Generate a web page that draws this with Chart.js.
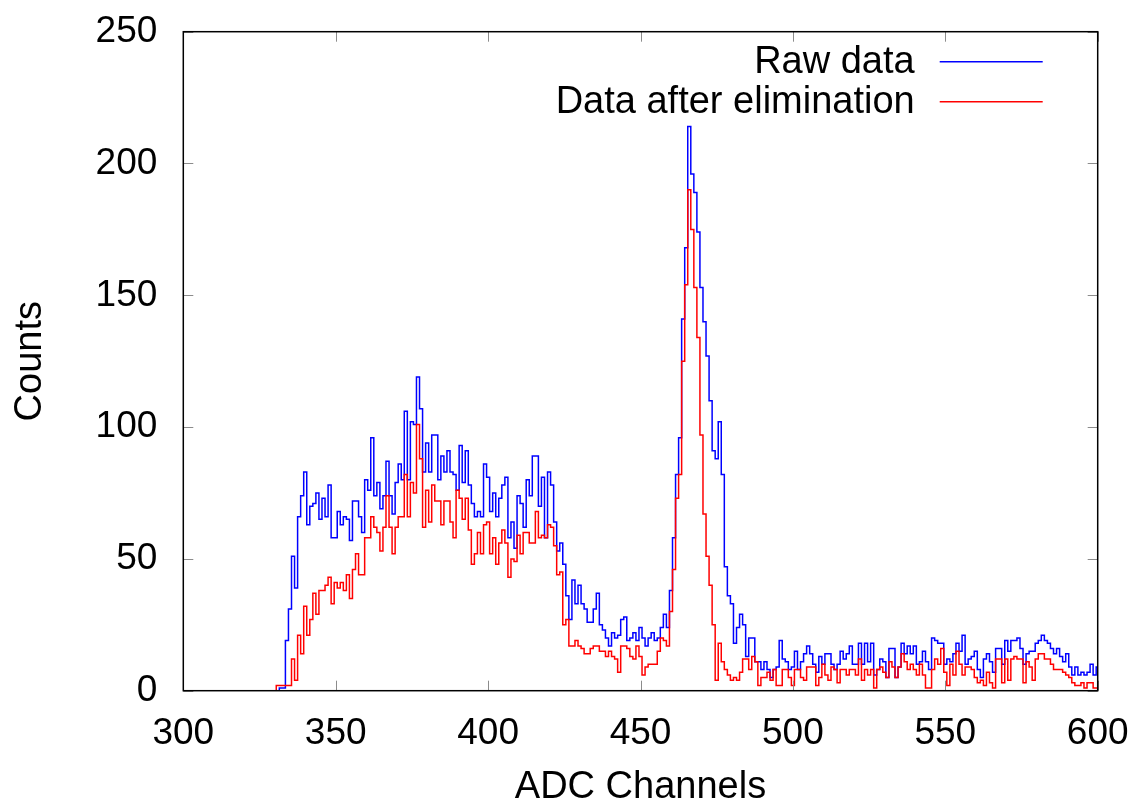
<!DOCTYPE html>
<html>
<head>
<meta charset="utf-8">
<script src="https://cdn.jsdelivr.net/npm/chart.js@4.4.0/dist/chart.umd.min.js"></script>
<style>
  body { margin: 0; background: #fff; }
  #wrap { width: 1138px; height: 807px; }
</style>
</head>
<body>
<div id="wrap"><canvas id="adcChart" width="1138" height="807"></canvas></div>
<script>
// one count per ADC channel, starting at firstChannel
const firstChannel = 330;

const rawCounts = [
  0, 0, 1, 1, 19, 31, 51, 39, 66, 74,          // 330
  83, 63, 70, 71, 75, 65, 73, 66, 78, 58,      // 340
  58, 68, 63, 66, 65, 57, 72, 72, 66, 60,      // 350
  80, 76, 96, 74, 79, 69, 74, 87, 74, 67,      // 360
  79, 86, 80, 106, 80, 102, 101, 119, 107, 83, // 370
  94, 83, 97, 97, 80, 89, 83, 91, 83, 82,      // 380
  76, 93, 79, 91, 78, 71, 66, 68, 66, 86,      // 390
  81, 68, 75, 66, 73, 78, 81, 58, 64, 54,      // 400
  74, 71, 62, 80, 74, 89, 89, 70, 81, 58,      // 410
  83, 78, 64, 53, 56, 48, 36, 27, 42, 33,      // 420
  40, 33, 31, 26, 26, 31, 37, 25, 23, 20,      // 430
  17, 22, 20, 21, 27, 28, 19, 20, 22, 19,      // 440
  24, 20, 17, 20, 22, 19, 20, 24, 29, 24,      // 450
  38, 58, 82, 96, 141, 168, 214, 196, 189, 174, // 460
  153, 140, 127, 110, 91, 88, 102, 82, 47, 36, // 470
  33, 18, 24, 29, 25, 13, 20, 20, 11, 11,      // 480
  8, 11, 8, 5, 8, 9, 19, 12, 11, 8,            // 490
  9, 15, 8, 11, 14, 17, 14, 10, 7, 13,         // 500
  10, 14, 14, 10, 8, 10, 15, 12, 14, 17,       // 510
  10, 10, 18, 10, 18, 11, 18, 6, 8, 12,        // 520
  11, 5, 16, 16, 5, 9, 18, 14, 17, 14,         // 530
  17, 10, 11, 15, 11, 8, 20, 19, 18, 18,       // 540
  10, 12, 11, 14, 18, 15, 21, 10, 12, 13,      // 550
  15, 8, 5, 12, 14, 11, 7, 16, 16, 10,         // 560
  19, 15, 19, 19, 20, 16, 10, 14, 15, 15,      // 570
  18, 19, 21, 19, 18, 16, 14, 16, 13, 11,      // 580
  14, 9, 6, 9, 6, 7, 6, 7, 10, 6,              // 590
  9                                            // 600
];

const cleanCounts = [
  0, 2, 2, 2, 2, 2, 12, 4, 21, 14,             // 330
  32, 21, 27, 37, 29, 38, 38, 40, 43, 33,      // 340
  41, 39, 41, 38, 44, 35, 46, 52, 44, 44,      // 350
  58, 58, 66, 62, 60, 53, 62, 74, 62, 52,      // 360
  62, 66, 66, 82, 66, 79, 75, 101, 88, 62,     // 370
  76, 64, 78, 72, 72, 63, 72, 72, 64, 58,      // 380
  76, 73, 65, 73, 61, 48, 52, 60, 52, 63,      // 390
  64, 52, 58, 48, 56, 61, 56, 43, 50, 49,      // 400
  59, 52, 60, 60, 56, 56, 68, 58, 59, 58,      // 410
  63, 62, 55, 44, 45, 25, 27, 17, 17, 19,      // 420
  17, 16, 14, 14, 16, 17, 17, 15, 15, 13,      // 430
  15, 13, 12, 7, 17, 17, 16, 13, 12, 17,       // 440
  13, 6, 9, 10, 10, 10, 15, 20, 19, 17,        // 450
  30, 46, 73, 82, 125, 154, 190, 175, 153, 134, // 460
  97, 67, 51, 40, 25, 4, 18, 11, 8, 6,         // 470
  4, 5, 4, 7, 12, 12, 8, 13, 11, 2,            // 480
  5, 5, 7, 4, 8, 2, 2, 8, 8, 5,                // 490
  2, 8, 8, 5, 4, 9, 9, 9, 2, 5,                // 500
  10, 6, 4, 9, 8, 3, 8, 8, 6, 8,               // 510
  8, 6, 12, 4, 8, 6, 8, 1, 8, 9,               // 520
  7, 5, 11, 9, 5, 9, 14, 11, 8, 10,            // 530
  8, 6, 10, 6, 1, 1, 8, 12, 10, 16,            // 540
  7, 2, 10, 6, 15, 10, 6, 9, 9, 8,             // 550
  5, 3, 4, 2, 7, 3, 1, 12, 12, 3,              // 560
  12, 4, 12, 13, 12, 12, 3, 11, 9, 4,          // 570
  12, 14, 14, 12, 12, 10, 8, 8, 8, 7,          // 580
  6, 5, 3, 2, 2, 3, 1, 3, 3, 1,                // 590
  1                                            // 600
];

const xTicks = [300, 350, 400, 450, 500, 550, 600];
const yTicks = [0, 50, 100, 150, 200, 250];
const seriesNames = ['Raw data', 'Data after elimination'];

Chart.defaults.font.family = "'Liberation Sans', Arial, sans-serif";
Chart.defaults.color = '#000';

function toPoints(counts) {
  return counts.map((c, i) => ({ x: firstChannel + i, y: c }));
}

// gnuplot-like box: inward tics on all four sides plus the key drawn inside the plot
const frameAndKey = {
  id: 'frameAndKey',
  afterDatasetsDraw(chart) {
    const { ctx, chartArea: a, scales: { x, y } } = chart;
    ctx.save();

    ctx.strokeStyle = '#8c8c8c';
    ctx.lineWidth = 1;
    ctx.beginPath();
    xTicks.forEach(v => {
      const px = Math.round(x.getPixelForValue(v)) + 0.5;
      ctx.moveTo(px, a.bottom); ctx.lineTo(px, a.bottom - 10);
      ctx.moveTo(px, a.top); ctx.lineTo(px, a.top + 10);
    });
    yTicks.forEach(v => {
      const py = Math.round(y.getPixelForValue(v)) + 0.5;
      ctx.moveTo(a.left, py); ctx.lineTo(a.left + 10, py);
      ctx.moveTo(a.right, py); ctx.lineTo(a.right - 10, py);
    });
    ctx.stroke();

    ctx.strokeStyle = '#000';
    ctx.lineWidth = 1.5;
    ctx.strokeRect(a.left, a.top, a.right - a.left, a.bottom - a.top);

    ctx.font = "38px 'Liberation Sans', Arial, sans-serif";
    ctx.textAlign = 'right';
    ctx.textBaseline = 'middle';
    chart.data.datasets.forEach((ds, i) => {
      const rowY = a.top + 30 + i * 40;
      ctx.fillStyle = '#000';
      ctx.fillText(ds.label, a.right - 183, rowY + 1);
      ctx.strokeStyle = ds.borderColor;
      ctx.lineWidth = 1.5;
      ctx.beginPath();
      ctx.moveTo(a.right - 158, rowY);
      ctx.lineTo(a.right - 55, rowY);
      ctx.stroke();
    });
    ctx.restore();
  }
};

const ctx = document.getElementById('adcChart').getContext('2d');

new Chart(ctx, {
  type: 'line',
  data: {
    datasets: [
      {
        label: seriesNames[0],
        data: toPoints(rawCounts),
        borderColor: 'rgb(0, 0, 255)',
        borderWidth: 1.5,
        stepped: 'middle',
        pointRadius: 0,
        fill: false,
        order: 1
      },
      {
        label: seriesNames[1],
        data: toPoints(cleanCounts),
        borderColor: 'rgb(255, 0, 0)',
        borderWidth: 1.5,
        stepped: 'middle',
        pointRadius: 0,
        fill: false,
        order: 0
      }
    ]
  },
  options: {
    responsive: false,
    animation: false,
    layout: { padding: { top: 31.7, right: 40.3, left: 0, bottom: 0 } },
    scales: {
      x: {
        type: 'linear',
        min: 300,
        max: 600,
        afterFit: s => { s.height = 116.3; s.paddingLeft = 0; s.paddingRight = 0; },
        afterBuildTicks: s => { s.ticks = xTicks.map(v => ({ value: v })); },
        grid: { display: false, drawTicks: false },
        border: { display: false },
        ticks: { padding: 21, maxRotation: 0, autoSkip: false, font: { size: 37 } },
        title: { display: true, text: 'ADC Channels', font: { size: 38, lineHeight: 1.05 }, padding: { top: 0, bottom: 0 } }
      },
      y: {
        min: 0,
        max: 250,
        afterFit: s => { s.width = 183.3; s.paddingTop = 0; s.paddingBottom = 0; },
        afterBuildTicks: s => { s.ticks = yTicks.map(v => ({ value: v })); },
        grid: { display: false, drawTicks: false },
        border: { display: false },
        ticks: { padding: 26, font: { size: 37 } },
        title: { display: true, text: 'Counts', font: { size: 38 }, padding: { top: 8, bottom: 0 } }
      }
    },
    plugins: {
      legend: { display: false },
      tooltip: { enabled: false }
    }
  },
  plugins: [frameAndKey]
});
</script>
</body>
</html>
